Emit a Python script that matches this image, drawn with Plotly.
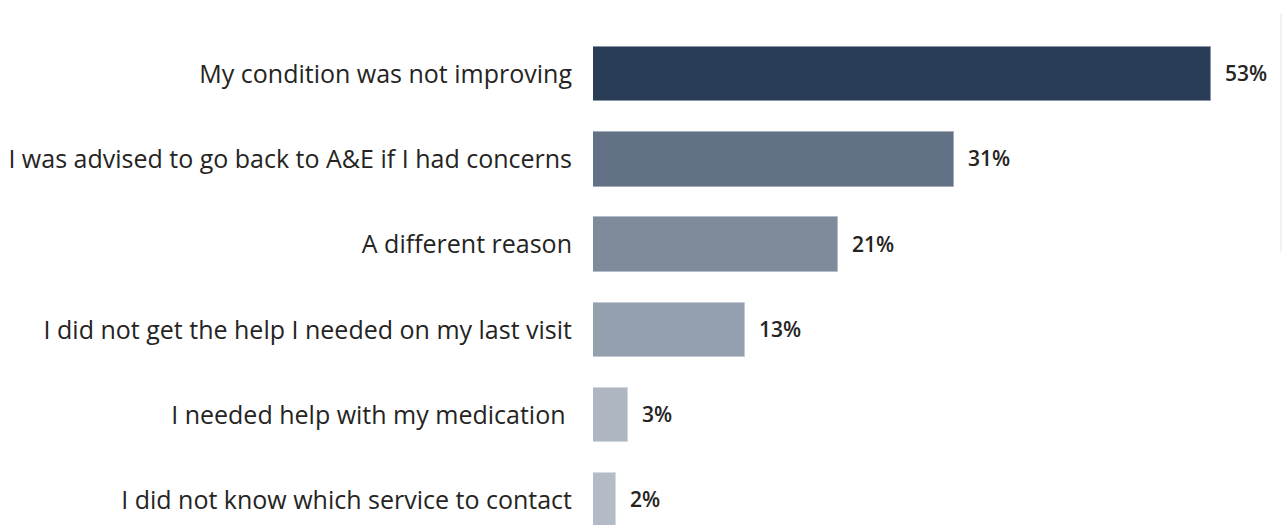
import plotly.graph_objects as go

# Reasons for returning to A&E (share of respondents, %)
reasons = [
    "My condition was not improving",
    "I was advised to go back to A&E if I had concerns",
    "A different reason",
    "I did not get the help I needed on my last visit",
    "I needed help with my medication\u00a0",
    "I did not know which service to contact",
]
shares = [53, 31, 21, 13, 3, 2]
bar_colors = ["#293d57", "#627185", "#7f8b9b", "#95a0ae", "#adb6c1", "#b3bbc6"]
outline_colors = ["#8a97a8", "#a3adba", "#b3bcc7", "#c3cad3", "#d3d8de", "#d6dbe1"]

positions = list(range(len(reasons)))

fig = go.Figure()
fig.add_trace(go.Bar(
    x=shares,
    y=positions,
    orientation="h",
    width=0.64,
    marker=dict(color=bar_colors, line=dict(color=outline_colors, width=1)),
    hoverinfo="skip",
))

# value labels to the right of each bar
for pos, val in zip(positions, shares):
    fig.add_annotation(
        x=val, y=pos, xref="x", yref="y",
        text=f"{val}%", showarrow=False,
        xanchor="left", yanchor="middle", xshift=12, yshift=1,
        font=dict(family="Open Sans", size=21, color="#252423", weight=600),
    )

# faint panel edge on the right
fig.add_shape(
    type="line", xref="paper", yref="paper",
    xsizemode="pixel", xanchor=1.0, x0=-3, x1=-3,
    y0=0.52, y1=0.975,
    line=dict(color="#f2f2f2", width=2),
)

fig.update_layout(
    width=1284, height=525,
    margin=dict(l=593, r=0, t=0, b=0),
    paper_bgcolor="white", plot_bgcolor="white",
    showlegend=False,
    bargap=0,
    xaxis=dict(range=[0, 59.26], visible=False, fixedrange=True),
    yaxis=dict(
        range=[5.29, -0.87],
        tickmode="array", tickvals=positions, ticktext=reasons,
        ticks="", ticklabelstandoff=20,
        showgrid=False, zeroline=False, showline=False,
        tickfont=dict(family="Open Sans", size=25, color="#252423"),
        fixedrange=True,
    ),
)

fig.write_html("out.html")
